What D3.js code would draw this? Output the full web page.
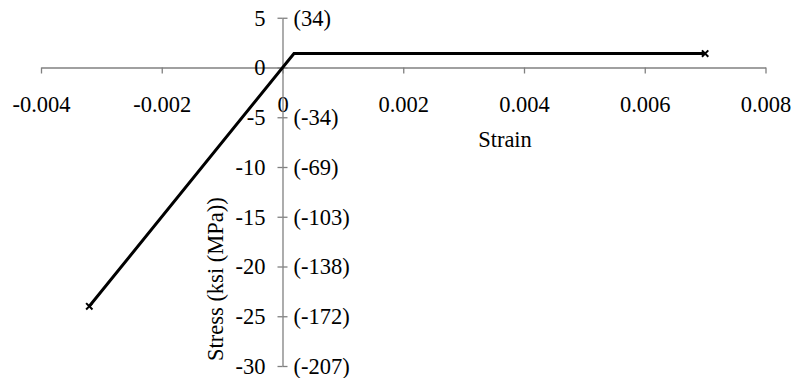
<!DOCTYPE html>
<html>
<head>
<meta charset="utf-8">
<script src="https://cdn.jsdelivr.net/npm/d3@7"></script>
<style>
  html, body { margin: 0; padding: 0; background: #fff; }
  svg { display: block; }
</style>
</head>
<body>
<script>
// Data
const strain = [-0.0032, 0.00019, 0.007];
const stress = [-24, 1.4, 1.4];
const xTicks = [-0.004, -0.002, 0, 0.002, 0.004, 0.006, 0.008];
const xTickLabels = ["-0.004", "-0.002", "0", "0.002", "0.004", "0.006", "0.008"];
const yTicks = [5, 0, -5, -10, -15, -20, -25, -30];
const yTickLabels = ["5", "0", "-5", "-10", "-15", "-20", "-25", "-30"];
const yTickLabelsMPa = ["(34)", "", "(-34)", "(-69)", "(-103)", "(-138)", "(-172)", "(-207)"];
const xTitle = "Strain";
const yTitle = "Stress (ksi (MPa))";

const W = 795, H = 378;
const FS = 22.5;
const FONT = '"Liberation Serif"';
const svg = d3.select("body").append("svg").attr("width", W).attr("height", H)
  .attr("font-family", "Liberation Serif");

const x = d3.scaleLinear().domain([-0.004, 0.008]).range([41, 765.5]);
const y = d3.scaleLinear().domain([-30, 5]).range([366, 17.75]);
const axisColor = "#808080";

function styleText(sel) {
  sel.attr("font-family", "Liberation Serif").attr("font-size", FS)
    .style("font-family", FONT).attr("fill", "#000");
}

// X axis
const gx = svg.append("g").attr("transform", `translate(0,${y(0)})`)
  .call(d3.axisBottom(x).tickValues(xTicks).tickSize(6).tickSizeOuter(0)
    .tickFormat((d, i) => xTickLabels[i]))
  .attr("font-family", "Liberation Serif");
gx.select(".domain").attr("stroke", axisColor).attr("stroke-width", 1.3);
gx.selectAll(".tick line").attr("stroke", axisColor).attr("stroke-width", 1.3);
gx.selectAll(".tick text").attr("y", 44.5).attr("dy", 0).call(styleText);

// Y axis (left labels, ksi)
const gy = svg.append("g").attr("transform", `translate(${x(0)},0)`)
  .call(d3.axisLeft(y).tickValues(yTicks).tickSize(5).tickSizeOuter(0)
    .tickFormat((d, i) => yTickLabels[i]))
  .attr("font-family", "Liberation Serif");
gy.select(".domain").attr("stroke", axisColor).attr("stroke-width", 1.3);
gy.selectAll(".tick line").attr("stroke", axisColor).attr("stroke-width", 1.3);
gy.selectAll(".tick text").attr("x", -17).attr("dy", "0.33em").call(styleText);

// Y axis (right labels, MPa)
const gy2 = svg.append("g").attr("transform", `translate(${x(0)},0)`)
  .call(d3.axisRight(y).tickValues(yTicks).tickSize(5).tickSizeOuter(0)
    .tickFormat((d, i) => yTickLabelsMPa[i]))
  .attr("font-family", "Liberation Serif");
gy2.select(".domain").remove();
gy2.selectAll(".tick line").attr("stroke", axisColor).attr("stroke-width", 1.3);
gy2.selectAll(".tick text").attr("x", 11).attr("dy", "0.33em").call(styleText);

// Titles
svg.append("text").attr("x", 505).attr("y", 147)
  .attr("text-anchor", "middle").call(styleText).text(xTitle);

svg.append("text").attr("transform", "translate(223,361) rotate(-90)")
  .attr("text-anchor", "start").call(styleText).text(yTitle);

// Line
const pts = strain.map((s, i) => [s, stress[i]]);
svg.append("path").datum(pts)
  .attr("fill", "none").attr("stroke", "#000").attr("stroke-width", 3)
  .attr("stroke-linejoin", "miter")
  .attr("d", d3.line().x(d => x(d[0])).y(d => y(d[1])));

// End markers (x)
const ends = [pts[0], pts[pts.length - 1]];
svg.selectAll("path.mk").data(ends).enter().append("path").attr("class", "mk")
  .attr("transform", d => `translate(${x(d[0])},${y(d[1])})`)
  .attr("d", d3.symbol(d3.symbolTimes, 28))
  .attr("fill", "none").attr("stroke", "#000").attr("stroke-width", 2);
</script>
</body>
</html>
